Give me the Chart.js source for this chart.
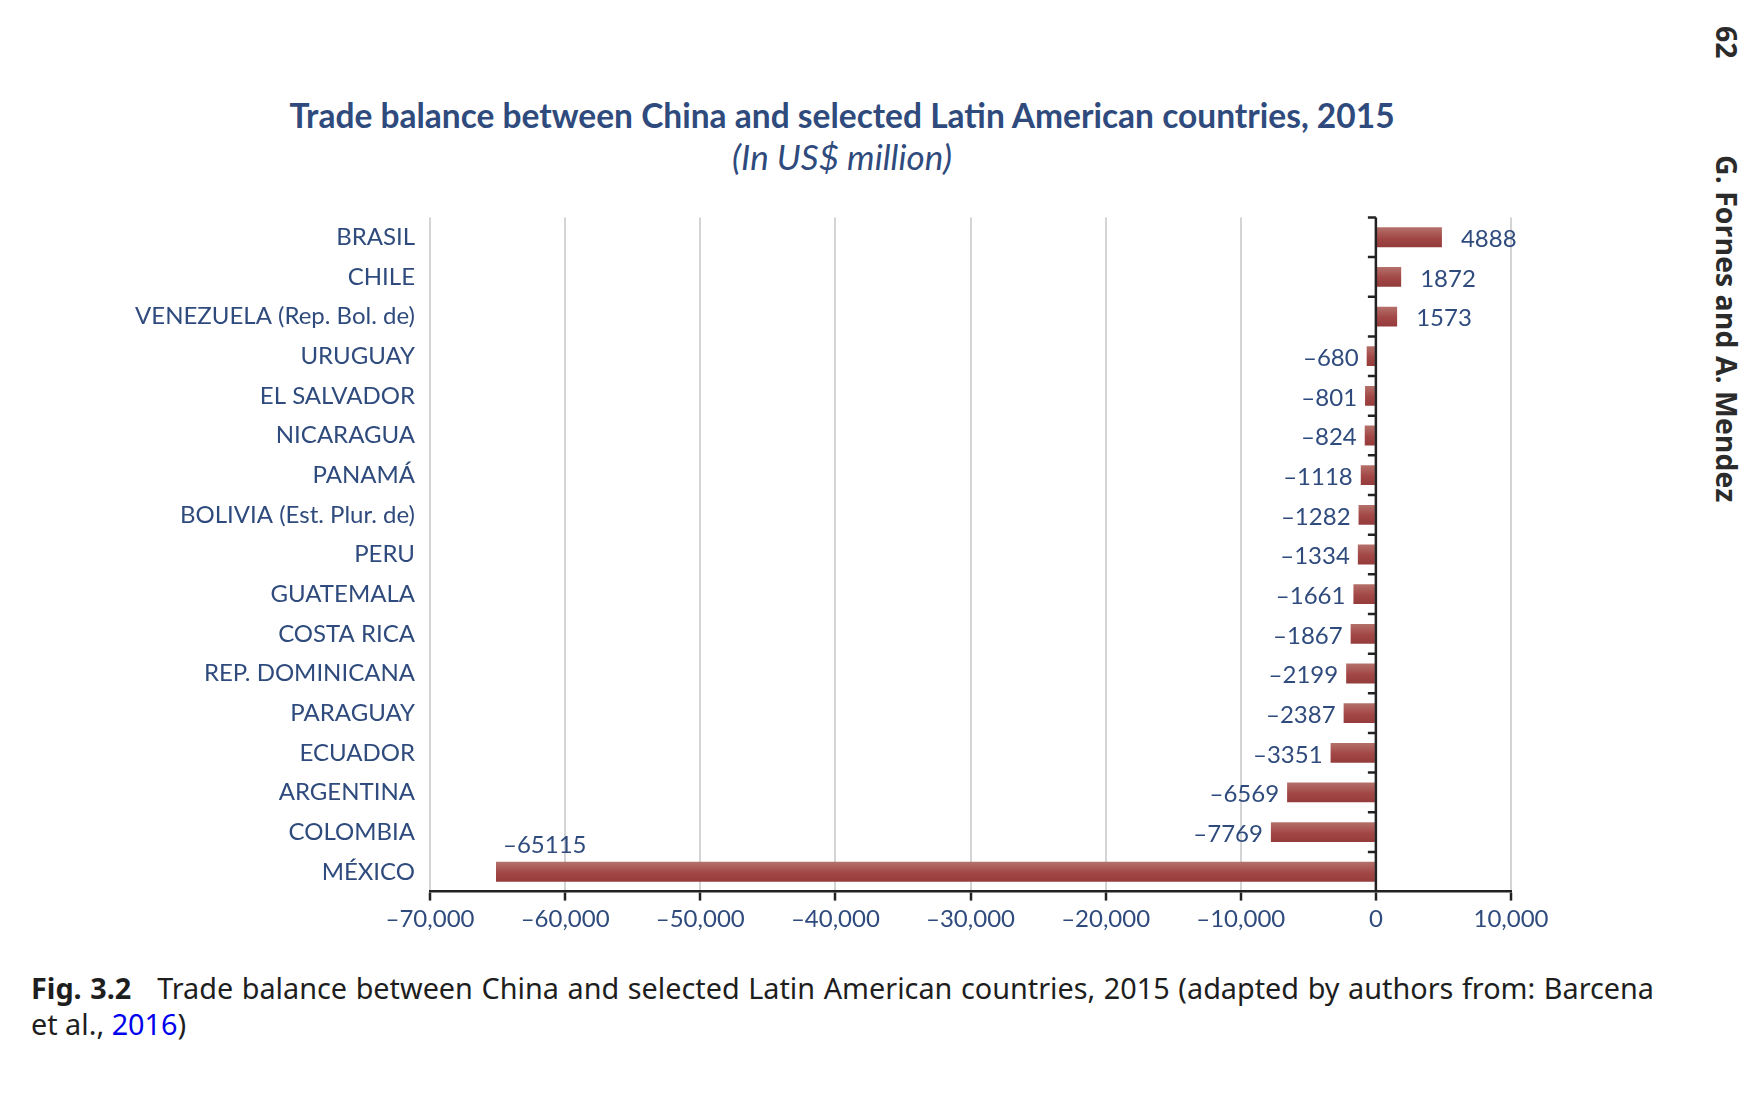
<!DOCTYPE html>
<html lang="en">
<head>
<meta charset="UTF-8">
<title>Trade balance between China and selected Latin American countries, 2015</title>
<script src="https://cdn.jsdelivr.net/npm/chart.js@4.4.1/dist/chart.umd.min.js"></script>
<style>
body {
  margin: 0;
  background: #fff;
  width: 1752px;
  height: 1112px;
  position: relative;
  overflow: hidden;
}
.chart-title {
  position: absolute;
  left: 0;
  width: 1684px;
  text-align: center;
  font-family: Lato, sans-serif;
  color: #2f4b7d;
}
.chart-title.main { top: 94px; font-size: 33.5px; line-height: 42px; font-weight: 700; }
.chart-title.sub { top: 135px; font-size: 35px; line-height: 42px; font-style: italic; }
#chart-box {
  position: absolute;
  left: 0;
  top: 188px;
  width: 1684px;
  height: 772px;
}
.running-head {
  position: absolute;
  writing-mode: vertical-rl;
  font-family: "Open Sans", sans-serif;
  font-weight: 700;
  font-size: 28.5px;
  line-height: 30px;
  color: #2b2b2b;
  left: 1712px;
}
.caption {
  position: absolute;
  left: 31px;
  top: 970px;
  width: 1623px;
  margin: 0;
  font-family: "Noto Sans", sans-serif;
  font-size: 28.8px;
  line-height: 35.7px;
  color: #1e1e1e;
  text-align: justify;
}
.caption .ref { color: #0000ee; }
</style>
</head>
<body>

<div class="chart-title main">Trade balance between China and selected Latin American countries, 2015</div>
<div class="chart-title sub">(In US$ million)</div>

<div id="chart-box"><canvas id="tradeChart"></canvas></div>

<div class="running-head" style="top:26px">62</div>
<div class="running-head" style="top:155px">G. Fornes and A. Mendez</div>

<p class="caption"><b>Fig. 3.2</b>&nbsp;&nbsp; Trade balance between China and selected Latin American countries, 2015 (adapted by authors from: Barcena et al., <span class="ref">2016</span>)</p>

<script>
const countries = ['BRASIL', 'CHILE', 'VENEZUELA (Rep. Bol. de)', 'URUGUAY', 'EL SALVADOR', 'NICARAGUA', 'PANAMÁ',
  'BOLIVIA (Est. Plur. de)', 'PERU', 'GUATEMALA', 'COSTA RICA', 'REP. DOMINICANA', 'PARAGUAY', 'ECUADOR',
  'ARGENTINA', 'COLOMBIA', 'MÉXICO']
const balance = [4888, 1872, 1573, -680, -801, -824, -1118, -1282, -1334, -1661, -1867, -2199, -2387, -3351,
  -6569, -7769, -65115]
const axisMin = -70000
const axisMax = 10000
const axisStep = 10000

const textBlue = '#2f4b7d'
const dash = '\u2013'

function tickText(v) {
  const s = Math.abs(v).toLocaleString('en-US')
  return v < 0 ? dash + s : s
}
function valueText(v) {
  return v < 0 ? dash + Math.abs(v) : String(v)
}

// black category axis sitting on the zero value, ticks between categories
const zeroAxis = {
  id: 'zeroAxis',
  afterDatasetsDraw(chart) {
    const { ctx, chartArea, scales: { x, y } } = chart
    const x0 = x.getPixelForValue(0)
    ctx.save()
    ctx.strokeStyle = '#222'
    ctx.lineWidth = 2.5
    ctx.beginPath()
    ctx.moveTo(x0, chartArea.top)
    ctx.lineTo(x0, chartArea.bottom)
    for (let i = 0; i < countries.length; i++) {
      const yy = y.getPixelForValue(i - 0.5)
      ctx.moveTo(x0 - 8, yy)
      ctx.lineTo(x0, yy)
    }
    ctx.stroke()
    ctx.restore()
  }
}

// value labels at the bar ends; moved above the bar when there is no room
const valueLabels = {
  id: 'valueLabels',
  afterDatasetsDraw(chart) {
    const { ctx, chartArea } = chart
    const meta = chart.getDatasetMeta(0)
    ctx.save()
    ctx.font = '24px Lato'
    ctx.fillStyle = textBlue
    ctx.textBaseline = 'middle'
    meta.data.forEach((bar, i) => {
      const v = balance[i]
      const txt = valueText(v)
      const w = ctx.measureText(txt).width
      if (v >= 0) {
        ctx.textAlign = 'left'
        ctx.fillText(txt, bar.x + 19, bar.y + 2)
      } else if (bar.x - 8 - w < chartArea.left) {
        ctx.textAlign = 'left'
        ctx.fillText(txt, bar.x + 7, bar.y - 27)
      } else {
        ctx.textAlign = 'right'
        ctx.fillText(txt, bar.x - 8, bar.y + 2)
      }
    })
    ctx.restore()
  }
}

new Chart(document.getElementById('tradeChart'), {
  type: 'bar',
  data: {
    labels: countries,
    datasets: [{
      data: balance,
      categoryPercentage: 1,
      barPercentage: 0.5,
      borderWidth: 0,
      backgroundColor: ctx => {
        const chart = ctx.chart
        const y = chart.scales.y
        if (!y || ctx.type !== 'data') return '#a04848'
        const c = y.getPixelForValue(ctx.dataIndex)
        if (!isFinite(c)) return '#a04848'
        const g = chart.ctx.createLinearGradient(0, c - 10, 0, c + 10)
        g.addColorStop(0, '#b4716b')
        g.addColorStop(0.55, '#a24746')
        g.addColorStop(1, '#943b3b')
        return g
      }
    }]
  },
  options: {
    indexAxis: 'y',
    responsive: true,
    maintainAspectRatio: false,
    animation: false,
    layout: { padding: { left: 15, right: 173, top: 3, bottom: 0 } },
    plugins: {
      legend: { display: false },
      tooltip: { enabled: false }
    },
    scales: {
      x: {
        min: axisMin,
        max: axisMax,
        ticks: {
          stepSize: axisStep,
          callback: tickText,
          color: textBlue,
          font: { family: 'Lato', size: 24 },
          padding: 4,
          maxRotation: 0
        },
        grid: { color: '#d4d4d4', lineWidth: 2, tickColor: '#222', tickWidth: 2.5, tickLength: 9 },
        border: { color: '#222', width: 2.5 },
        afterFit(scale) { scale.height = 68.4 }
      },
      y: {
        ticks: {
          color: textBlue,
          font: { family: 'Lato', size: 24 },
          padding: 15
        },
        grid: { display: false, drawTicks: false },
        border: { display: false },
        afterFit(scale) { scale.width = 415 }
      }
    }
  },
  plugins: [zeroAxis, valueLabels]
})
</script>
</body>
</html>
